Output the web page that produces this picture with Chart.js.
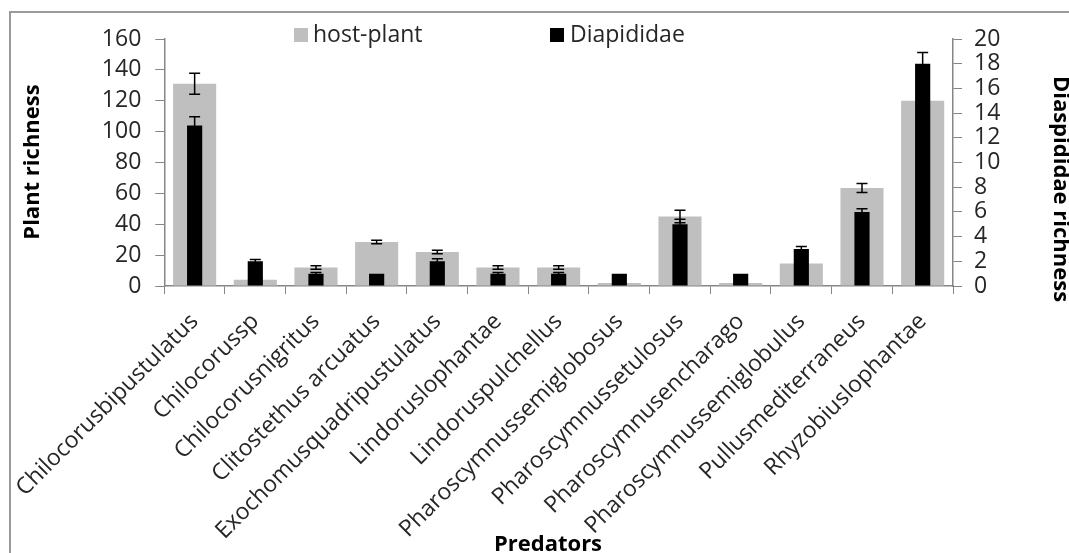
<!DOCTYPE html>
<html>
<head>
<meta charset="utf-8">
<script src="https://cdn.jsdelivr.net/npm/chart.js@4.4.1/dist/chart.umd.min.js"></script>
<style>
  html, body { margin: 0; padding: 0; background: #fff; }
  #wrap { width: 1069px; height: 553px; position: relative; }
</style>
</head>
<body>
<div id="wrap"><canvas id="chart" width="1069" height="553"></canvas></div>
<script>
// values
const predators = [
  "Chilocorusbipustulatus", "Chilocorussp", "Chilocorusnigritus", "Clitostethus arcuatus",
  "Exochomusquadripustulatus", "Lindoruslophantae", "Lindoruspulchellus", "Pharoscymnussemiglobosus",
  "Pharoscymnussetulosus", "Pharoscymnusencharago", "Pharoscymnussemiglobulus", "Pullusmediterraneus",
  "Rhyzobiuslophantae"
];
const hostPlant = [131, 4, 12, 28.5, 22, 12, 12, 2, 45, 2, 14.5, 63.5, 120];
const hostPlantErr = [6.8, 0.5, 1.1, 1.1, 1.1, 1.1, 1.1, 0, 4, 0, 1, 2.9, 3];
const diaspididae = [13, 2, 1, 1, 2, 1, 1, 1, 5, 1, 3, 6, 18];
const diaspididaeErr = [0.7, 0.15, 0.1, 0, 0.2, 0.1, 0.1, 0, 0.4, 0, 0.2, 0.25, 0.9];
const plantTicks = { min: 0, max: 160, step: 20 };
const diasTicks = { min: 0, max: 20, step: 2 };

const FONT = "'Open Sans', sans-serif";
const TEXT = "#262626";
const AXIS = "#868686";

// error bars drawn right after their own dataset, so black bars cover hidden grey ones
const errorBars = {
  id: "errorBars",
  afterDatasetDraw(chart, args) {
    const ds = chart.data.datasets[args.index];
    if (!ds.errors) return;
    const scale = chart.scales[ds.yAxisID];
    const ctx = chart.ctx;
    ctx.save();
    ctx.strokeStyle = "#000";
    ctx.lineWidth = 1.5;
    args.meta.data.forEach((bar, i) => {
      const e = ds.errors[i];
      if (!e) return;
      const top = scale.getPixelForValue(ds.data[i] + e);
      const bot = scale.getPixelForValue(ds.data[i] - e);
      const x = bar.x, w = 5.5;
      ctx.beginPath();
      ctx.moveTo(x, top); ctx.lineTo(x, bot);
      ctx.moveTo(x - w, top); ctx.lineTo(x + w, top);
      ctx.moveTo(x - w, bot); ctx.lineTo(x + w, bot);
      ctx.stroke();
    });
    ctx.restore();
  }
};

const decor = {
  id: "decor",
  beforeDraw(chart) {
    const ctx = chart.ctx;
    ctx.save();
    ctx.fillStyle = "#fff";
    ctx.fillRect(0, 0, chart.width, chart.height);
    ctx.strokeStyle = "#9a9a9a";
    ctx.lineWidth = 2;
    ctx.beginPath();
    ctx.moveTo(10, chart.height); ctx.lineTo(10, 12); ctx.lineTo(chart.width, 12);
    ctx.stroke();
    ctx.restore();
  },
  afterDraw(chart) {
    const ctx = chart.ctx;
    ctx.save();
    // legend
    ctx.font = "23px " + FONT;
    ctx.textBaseline = "middle";
    ctx.textAlign = "left";
    const items = [[294, 313], [550, 570]];
    chart.data.datasets.forEach((ds, i) => {
      ctx.fillStyle = ds.backgroundColor;
      ctx.fillRect(items[i][0], 28, 14, 14);
      ctx.fillStyle = TEXT;
      ctx.fillText(ds.label, items[i][1], 35);
    });
    // axis titles
    ctx.font = "bold 22px " + FONT;
    ctx.fillStyle = "#000";
    ctx.textAlign = "center";
    ctx.save();
    ctx.translate(33, 162);
    ctx.rotate(-Math.PI / 2);
    ctx.fillText("Plant richness", 0, 0);
    ctx.restore();
    ctx.save();
    ctx.translate(1060, 189);
    ctx.rotate(Math.PI / 2);
    ctx.fillText("Diaspididae richness", 0, 0);
    ctx.restore();
    ctx.textBaseline = "alphabetic";
    ctx.fillText("Predators", 548, 551);
    ctx.restore();
  }
};

const tickFont = { family: FONT, size: 23 };

new Chart(document.getElementById("chart").getContext("2d"), {
  type: "bar",
  data: {
    labels: predators,
    datasets: [
      {
        label: "host-plant", data: hostPlant, errors: hostPlantErr,
        backgroundColor: "#bfbfbf", yAxisID: "y", grouped: false, order: 1,
        barPercentage: 0.71, categoryPercentage: 1
      },
      {
        label: "Diapididae", data: diaspididae, errors: diaspididaeErr,
        backgroundColor: "#000000", yAxisID: "y2", grouped: false, order: 0,
        barPercentage: 0.25, categoryPercentage: 1
      }
    ]
  },
  options: {
    responsive: false,
    animation: false,
    layout: { padding: { top: 39, left: 0, right: 0, bottom: 0 } },
    plugins: { legend: { display: false }, tooltip: { enabled: false } },
    scales: {
      x: {
        grid: { drawOnChartArea: false, color: AXIS, tickLength: 8, offset: true },
        border: { color: AXIS, width: 1.5 },
        ticks: { autoSkip: false, minRotation: 45, maxRotation: 45, font: { family: FONT, size: 23 }, color: TEXT, padding: 14 },
        afterFit(s) { s.height = 553 - 286; }
      },
      y: {
        position: "left",
        min: plantTicks.min, max: plantTicks.max,
        grid: { drawOnChartArea: false, color: AXIS, tickLength: 9 },
        border: { color: AXIS, width: 1.5 },
        ticks: { stepSize: plantTicks.step, autoSkip: false, font: tickFont, color: TEXT, padding: 14 },
        afterFit(s) { s.width = 164; }
      },
      y2: {
        position: "right",
        min: diasTicks.min, max: diasTicks.max,
        grid: { drawOnChartArea: false, color: AXIS, tickLength: 9 },
        border: { color: AXIS, width: 1.5 },
        ticks: { stepSize: diasTicks.step, autoSkip: false, font: tickFont, color: TEXT, padding: 12 },
        afterFit(s) { s.width = 1069 - 953; }
      }
    }
  },
  plugins: [errorBars, decor]
});
</script>
</body>
</html>
